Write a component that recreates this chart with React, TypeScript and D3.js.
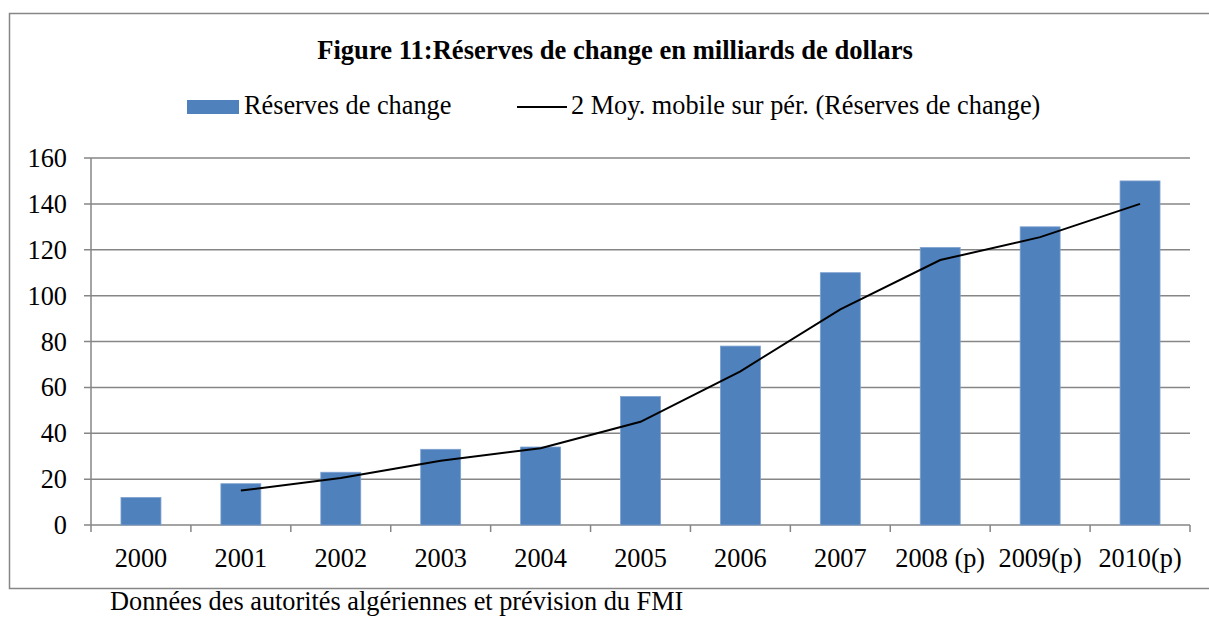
import React from 'react';
import * as d3 from 'd3';

// categories & series
const years = ['2000', '2001', '2002', '2003', '2004', '2005', '2006', '2007', '2008 (p)', '2009(p)', '2010(p)'];
const reserves = [12, 18, 23, 33, 34, 56, 78, 110, 121, 130, 150];
// 2-period moving average, starts at 2001
const maYears = ['2001', '2002', '2003', '2004', '2005', '2006', '2007', '2008 (p)', '2009(p)', '2010(p)'];
const maValues = [15, 20.5, 28, 33.5, 45, 67, 94, 115.5, 125.5, 140];
const yTicks = [0, 20, 40, 60, 80, 100, 120, 140, 160];

const W = 1209;
const H = 617;
const font = "'Liberation Serif', 'Times New Roman', serif";
const gridColor = '#868686';
const fs = 26.3;

function App() {
  const left = 91, right = 1190, top = 158, bottom = 525;

  const x = d3.scaleBand<string>()
    .domain(years)
    .range([left, right])
    .paddingInner(0.6)
    .paddingOuter(0.3);
  const step = x.step();

  const y = d3.scaleLinear().domain([0, 160]).range([bottom, top]);

  const line = d3.line<number>()
    .x((_, i) => (x(maYears[i]) as number) + x.bandwidth() / 2)
    .y(d => y(d));

  // category boundaries for x ticks
  const boundaries = d3.range(years.length + 1).map(i => left + i * step);

  const txt = { fontFamily: font };

  return (
    <svg width={W} height={H} style={{ position: 'absolute', left: 0, top: 0, display: 'block', fontFamily: font }}>
      <rect x={0} y={0} width={W} height={H} fill="#fff" />
      {/* outer frame */}
      <rect x={9.5} y={13.5} width={1220} height={575} fill="none" stroke={gridColor} strokeWidth={1.5} />

      <text x={615} y={59} textAnchor="middle" fontSize={26.6} fontWeight="bold" fill="#000" style={txt}>
        Figure 11:Réserves de change en milliards de dollars
      </text>

      {/* legend */}
      <rect x={187} y={100} width={52} height={14} fill="#4F81BD" />
      <text x={244} y={114} fontSize={fs} fill="#000" style={txt}>Réserves de change</text>
      <line x1={517} x2={567} y1={107} y2={107} stroke="#000" strokeWidth={2} />
      <text x={571} y={114} fontSize={fs} fill="#000" style={txt}>2 Moy. mobile sur pér. (Réserves de change)</text>

      {/* gridlines and y labels */}
      {yTicks.map(t => (
        <g key={t}>
          <line x1={left - 7} x2={right} y1={y(t)} y2={y(t)} stroke={gridColor} strokeWidth={1.5} />
          <text x={67} y={y(t) + 9} textAnchor="end" fontSize={fs} fill="#000" style={txt}>{t}</text>
        </g>
      ))}
      <line x1={left} x2={left} y1={top} y2={bottom} stroke={gridColor} strokeWidth={1.5} />

      {/* x ticks */}
      {boundaries.map((b, i) => (
        <line key={i} x1={b} x2={b} y1={bottom} y2={bottom + 7} stroke={gridColor} strokeWidth={1.5} />
      ))}

      {/* bars */}
      {reserves.map((v, i) => (
        <rect key={years[i]} x={x(years[i])} y={y(v)} width={x.bandwidth()} height={bottom - y(v)}
          fill="#4F81BD" stroke="#7EA1D0" strokeWidth={0.8} />
      ))}

      {/* moving average */}
      <path d={line(maValues) || ''} fill="none" stroke="#000" strokeWidth={2} />

      {/* x labels */}
      {years.map(c => (
        <text key={c} x={(x(c) as number) + x.bandwidth() / 2} y={567} textAnchor="middle" fontSize={fs} fill="#000" style={txt}>
          {c}
        </text>
      ))}

      <text x={110} y={610} fontSize={fs} fill="#000" style={txt}>Données des autorités algériennes et prévision du FMI</text>
    </svg>
  );
}

export default App;
